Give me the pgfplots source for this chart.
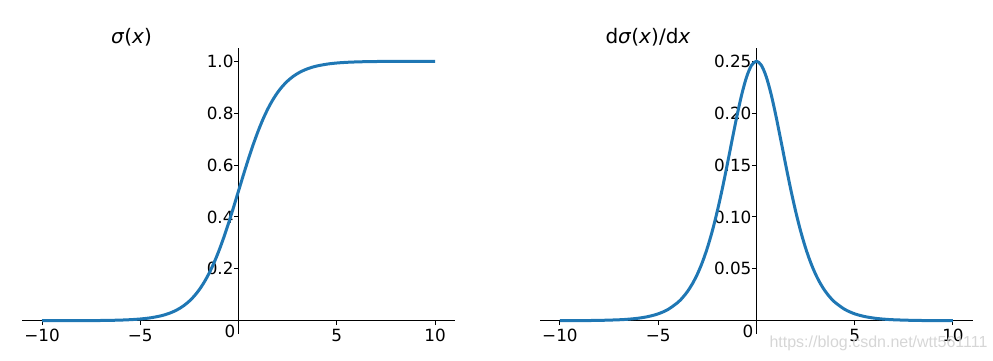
\documentclass[border=0pt]{standalone}
\usepackage{pgfplots}
\pgfplotsset{compat=1.18}
\usepackage{fontspec}
\setmainfont{DejaVu Sans}
\newfontfamily\wmfont{Liberation Sans}
\definecolor{mplblue}{HTML}{1F77B4}
\newcommand{\tickfont}{\fontsize{16.8}{20}\selectfont}
\newcommand{\titlefont}{\fontsize{20}{24}\selectfont}
\pgfplotstableread{
x y
-10 0.0000454
-9 0.000123
-8 0.000335
-7 0.000911
-6.5 0.001501
-6 0.002473
-5.5 0.004070
-5 0.006693
-4.5 0.010987
-4 0.017986
-3.75 0.022977
-3.5 0.029312
-3.25 0.037327
-3 0.047426
-2.75 0.060087
-2.5 0.075858
-2.25 0.095349
-2 0.119203
-1.75 0.148047
-1.5 0.182426
-1.25 0.222700
-1 0.268941
-0.75 0.320821
-0.5 0.377541
-0.25 0.437823
0 0.5
0.25 0.562177
0.5 0.622459
0.75 0.679179
1 0.731059
1.25 0.777300
1.5 0.817574
1.75 0.851953
2 0.880797
2.25 0.904651
2.5 0.924142
2.75 0.939913
3 0.952574
3.25 0.962673
3.5 0.970688
3.75 0.977023
4 0.982014
4.5 0.989013
5 0.993307
5.5 0.995930
6 0.997527
6.5 0.998499
7 0.999089
8 0.999665
9 0.999877
10 0.999955
}\sigtable
\pgfplotstableread{
x y
-10 0.0000454
-9 0.000123
-8 0.000335
-7 0.000910
-6.5 0.001501
-6 0.002467
-5.5 0.004070
-5 0.006648
-4.5 0.010866
-4 0.017663
-3.75 0.022449
-3.5 0.028453
-3.25 0.035934
-3 0.045177
-2.75 0.056477
-2.5 0.070104
-2.25 0.086258
-2 0.104994
-1.75 0.126129
-1.5 0.149146
-1.25 0.173104
-1 0.196612
-0.75 0.217895
-0.5 0.235004
-0.25 0.246134
0 0.25
0.25 0.246134
0.5 0.235004
0.75 0.217895
1 0.196612
1.25 0.173104
1.5 0.149146
1.75 0.126129
2 0.104994
2.25 0.086258
2.5 0.070104
2.75 0.056477
3 0.045177
3.25 0.035934
3.5 0.028453
3.75 0.022449
4 0.017663
4.5 0.010866
5 0.006648
5.5 0.004070
6 0.002467
6.5 0.001501
7 0.000910
8 0.000335
9 0.000123
10 0.0000454
}\dsigtable
\pgfplotsset{
  myaxis/.style={
    anchor=south west, scale only axis,
    width=432.3pt, height=285.4pt,
    xmin=-11, xmax=11,
    axis lines=middle,
    axis line style={-, black, line width=1pt},
    tick align=outside,
    tick style={black, line width=1pt},
    major tick length=4.5pt,
    xtick={-10,-5,5,10},
    xticklabels={−10,−5,5,10},
    tick label style={font=\tickfont},
    yticklabel style={xshift=3pt},
    clip=false,
  }
}
\begin{document}
\begin{tikzpicture}
\path[use as bounding box] (0pt,0pt) rectangle (993pt,360pt);
\begin{axis}[myaxis, at={(22.35pt,26.3pt)},
  ymin=-0.05, ymax=1.05,
  ytick={0.2,0.4,0.6,0.8,1.0},
  yticklabels={0.2,0.4,0.6,0.8,1.0}]
\addplot[mplblue, line width=3pt, smooth] table[x=x,y=y] {\sigtable};
\end{axis}
\begin{axis}[myaxis, at={(540.3pt,26.3pt)},
  ymin=-0.0125, ymax=0.2625,
  ytick={0.05,0.10,0.15,0.20,0.25},
  yticklabels={0.05,0.10,0.15,0.20,0.25}]
\addplot[mplblue, line width=3pt, smooth] table[x=x,y=y] {\dsigtable};
\end{axis}
\node[font=\titlefont] at (131.5pt,323pt) {\textit{σ}(\textit{x})};
\node[font=\titlefont] at (648pt,323pt) {d\textit{σ}(\textit{x})/d\textit{x}};
\node[font=\tickfont] at (230pt,29pt) {0};
\node[font=\tickfont] at (748pt,29pt) {0};
\node[font=\wmfont\fontsize{16}{19}\selectfont, text=black!16, inner sep=0pt] at (878.5pt,17pt) {https://blog.csdn.net/wtt561111};
\end{tikzpicture}
\end{document}
